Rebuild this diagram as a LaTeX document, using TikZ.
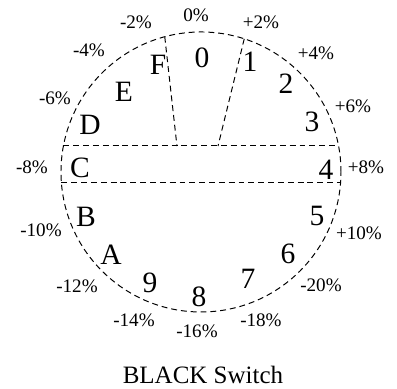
\documentclass[tikz,border=0pt]{standalone}
\usepackage{fontspec}
\setmainfont{Liberation Serif}
\usepackage{xcolor}
\usepackage{tikz}
\usetikzlibrary{calc}

\tikzset{
  guide/.style={draw=black, line width=0.5pt, dash pattern=on 3pt off 2pt},
  swpos/.style={font=\fontsize{15}{15}\selectfont, inner sep=0pt},
  pctlabel/.style={font=\fontsize{9.7}{10}\selectfont, inner sep=0pt},
}

\begin{document}
\begin{tikzpicture}
  \useasboundingbox (-3.589,-3.875) rectangle (3.5,3.071);
  % dial outline and the two guide bands
  \coordinate (ctr) at (0,0);
  \draw[guide] (ctr) circle (2.5);
  \draw[guide] (-2.457,0.464) -- (2.457,0.464);
  \draw[guide] (-2.492,-0.196) -- (2.492,-0.196);
  \coordinate (fTop) at (105:2.5);
  \coordinate (oneTop) at (72:2.5);
  \coordinate (fFoot) at (-0.429,0.464);
  \coordinate (oneFoot) at (0.304,0.464);
  \draw[guide] (fTop) -- (fFoot);
  \draw[guide] (oneTop) -- (oneFoot);
  % switch positions
  \node[swpos] (pos0) at (0.018,2.036) {0};
  \node[swpos] (pos1) at (0.875,1.964) {1};
  \node[swpos] (pos2) at (1.518,1.571) {2};
  \node[swpos] (pos3) at (1.982,0.893) {3};
  \node[swpos] (pos4) at (2.232,0.036) {4};
  \node[swpos] (pos5) at (2.071,-0.786) {5};
  \node[swpos] (pos6) at (1.554,-1.464) {6};
  \node[swpos] (pos7) at (0.839,-1.911) {7};
  \node[swpos] (pos8) at (-0.036,-2.232) {8};
  \node[swpos] (pos9) at (-0.911,-1.982) {9};
  \node[swpos] (posA) at (-1.607,-1.482) {A};
  \node[swpos] (posB) at (-2.054,-0.804) {B};
  \node[swpos] (posC) at (-2.161,0.071) {C};
  \node[swpos] (posD) at (-1.982,0.839) {D};
  \node[swpos] (posE) at (-1.375,1.429) {E};
  \node[swpos] (posF) at (-0.768,1.911) {F};
  % percentages round the rim
  \node[pctlabel] (pct0) at (-0.089,2.804) {0\%};
  \node[pctlabel] (pct1) at (1.071,2.679) {+2\%};
  \node[pctlabel] (pct2) at (2.054,2.125) {+4\%};
  \node[pctlabel] (pct3) at (2.714,1.179) {+6\%};
  \node[pctlabel] (pct4) at (2.946,0.089) {+8\%};
  \node[pctlabel] (pct5) at (2.821,-1.089) {+10\%};
  \node[pctlabel] (pct6) at (2.143,-2.018) {-20\%};
  \node[pctlabel] (pct7) at (1.071,-2.643) {-18\%};
  \node[pctlabel] (pct8) at (-0.071,-2.839) {-16\%};
  \node[pctlabel] (pct9) at (-1.196,-2.643) {-14\%};
  \node[pctlabel] (pctA) at (-2.214,-2.036) {-12\%};
  \node[pctlabel] (pctB) at (-2.857,-1.036) {-10\%};
  \node[pctlabel] (pctC) at (-3.018,0.089) {-8\%};
  \node[pctlabel] (pctD) at (-2.607,1.321) {-6\%};
  \node[pctlabel] (pctE) at (-2.0,2.179) {-4\%};
  \node[pctlabel] (pctF) at (-1.161,2.679) {-2\%};
  \node[font=\fontsize{12.7}{13}\selectfont, inner sep=0pt] (caption) at (0.036,-3.625) {BLACK Switch};
\end{tikzpicture}
\end{document}
